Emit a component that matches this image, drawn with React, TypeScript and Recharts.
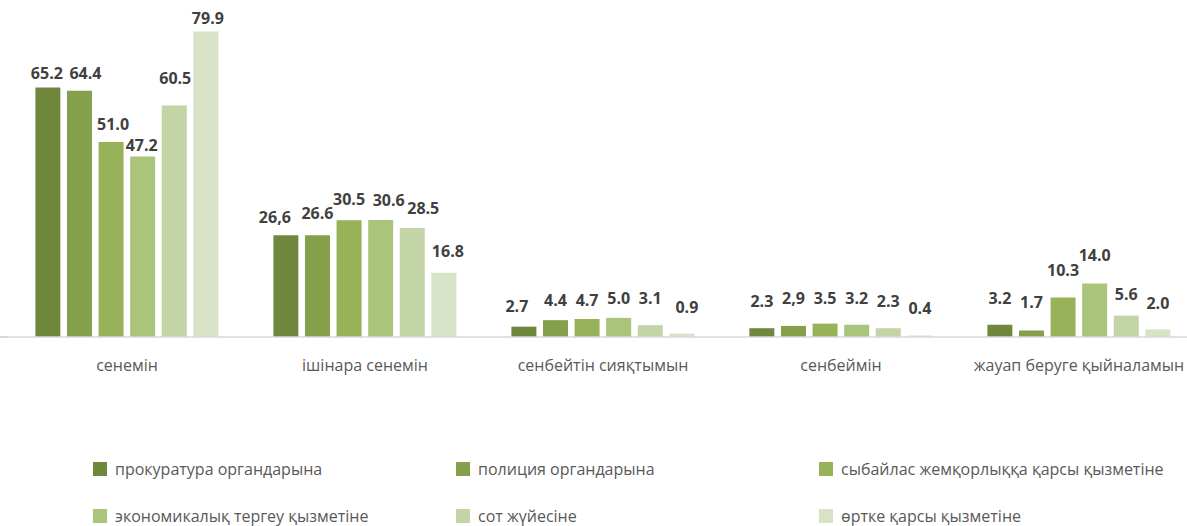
import { BarChart, Bar, XAxis, YAxis, LabelList } from 'recharts';

const categories = ['сенемін', 'ішінара сенемін', 'сенбейтін сияқтымын', 'сенбеймін', 'жауап беруге қыйналамын'];

const seriesNames = [
  'прокуратура органдарына',
  'полиция органдарына',
  'сыбайлас жемқорлыққа қарсы қызметіне',
  'экономикалық тергеу қызметіне',
  'сот жүйесіне',
  'өртке қарсы қызметіне',
];

const prokuratura = [65.2, 26.6, 2.7, 2.3, 3.2];
const police = [64.4, 26.6, 4.4, 2.9, 1.7];
const antiCorruption = [51.0, 30.5, 4.7, 3.5, 10.3];
const economic = [47.2, 30.6, 5.0, 3.2, 14.0];
const courts = [60.5, 28.5, 3.1, 2.3, 5.6];
const fire = [79.9, 16.8, 0.9, 0.4, 2.0];

// labels as printed in the source (some use a comma)
const prokuraturaLabels = ['65.2', '26,6', '2.7', '2.3', '3.2'];
const policeLabels = ['64.4', '26.6', '4.4', '2,9', '1.7'];
const antiCorruptionLabels = ['51.0', '30.5', '4.7', '3.5', '10.3'];
const economicLabels = ['47.2', '30.6', '5.0', '3.2', '14.0'];
const courtsLabels = ['60.5', '28.5', '3.1', '2.3', '5.6'];
const fireLabels = ['79.9', '16.8', '0.9', '0.4', '2.0'];

const COLORS = ['#70883D', '#84A04A', '#97B259', '#AAC47C', '#C3D4A6', '#D8E2C6'];

// hand-placed label nudges from the original, [category][series]
const LABEL_LIFT = [
  [15, 18, 18, 11, 28, 13],
  [18, 22, 21, 20, 20, 22],
  [21, 20, 19, 20, 27, 27],
  [27, 28, 26, 27, 27, 27],
  [27, 28, 28, 28, 22, 26],
];
const LABEL_DX = [
  [-1, 6, 2, -1, 1, 2],
  [-11, 0, 0, 8, 11, 4],
  [-7, 0, 0, 0, 0, 5],
  [0, 0, 0, 0, 0, 0],
  [0, 0, 0, 0, 0, 0],
];

const allValues = [prokuratura, police, antiCorruption, economic, courts, fire];
const allLabels = [prokuraturaLabels, policeLabels, antiCorruptionLabels, economicLabels, courtsLabels, fireLabels];

const data = categories.map((name, i) => {
  const row: Record<string, string | number> = { name };
  allValues.forEach((arr, s) => {
    row[`s${s}`] = arr[i];
    row[`l${s}`] = allLabels[s][i];
  });
  return row;
});

const FONT = '"Open Sans", "DejaVu Sans", sans-serif';

function makeLabel(s: number) {
  return (props: any) => {
    const { x, y, width, index } = props;
    return (
      <text
        x={x + width / 2 + LABEL_DX[index][s]}
        y={y - LABEL_LIFT[index][s] + 6}
        textAnchor="middle"
        fill="#404040"
        fontSize={16}
        fontWeight="bold"
        fontFamily={FONT}
      >
        {allLabels[s][index]}
      </text>
    );
  };
}

export default function App() {
  return (
    <div style={{ position: 'absolute', left: 0, top: 0, width: 1187, height: 526, background: '#fff', overflow: 'hidden' }}>
      <div style={{ position: 'absolute', left: 0, top: 336, width: 8, height: 2, background: '#D9D9D9' }} />
      <BarChart
        width={1198}
        height={526}
        data={data}
        margin={{ top: 31, right: 0, bottom: 149, left: 8 }}
        barCategoryGap="11.5%"
        barGap={6.6}
      >
        <XAxis
          dataKey="name"
          axisLine={{ stroke: '#D9D9D9', strokeWidth: 1.5 }}
          tickLine={false}
          tickSize={0}
          tickMargin={23}
          height={40}
          interval={0}
          tick={{ fill: '#595959', fontSize: 16, fontFamily: FONT }}
        />
        <YAxis hide domain={[0, 80]} />
        {seriesNames.map((n, s) => (
          <Bar key={n} dataKey={`s${s}`} name={n} fill={COLORS[s]} isAnimationActive={false}>
            <LabelList dataKey={`l${s}`} content={makeLabel(s)} />
          </Bar>
        ))}
      </BarChart>
      <div
        style={{
          position: 'absolute',
          left: 0,
          top: 459,
          width: 1187,
          display: 'grid',
          gridTemplateColumns: '363px 363px 368px',
          rowGap: 27,
          paddingLeft: 93,
          boxSizing: 'border-box',
          fontFamily: FONT,
          fontSize: 16,
          color: '#595959',
        }}
      >
        {seriesNames.map((n, s) => (
          <div key={n} style={{ display: 'flex', alignItems: 'center', height: 20, whiteSpace: 'nowrap' }}>
            <div style={{ width: 14, height: 14, background: COLORS[s], marginRight: 8, flexShrink: 0 }} />
            {n}
          </div>
        ))}
      </div>
    </div>
  );
}
